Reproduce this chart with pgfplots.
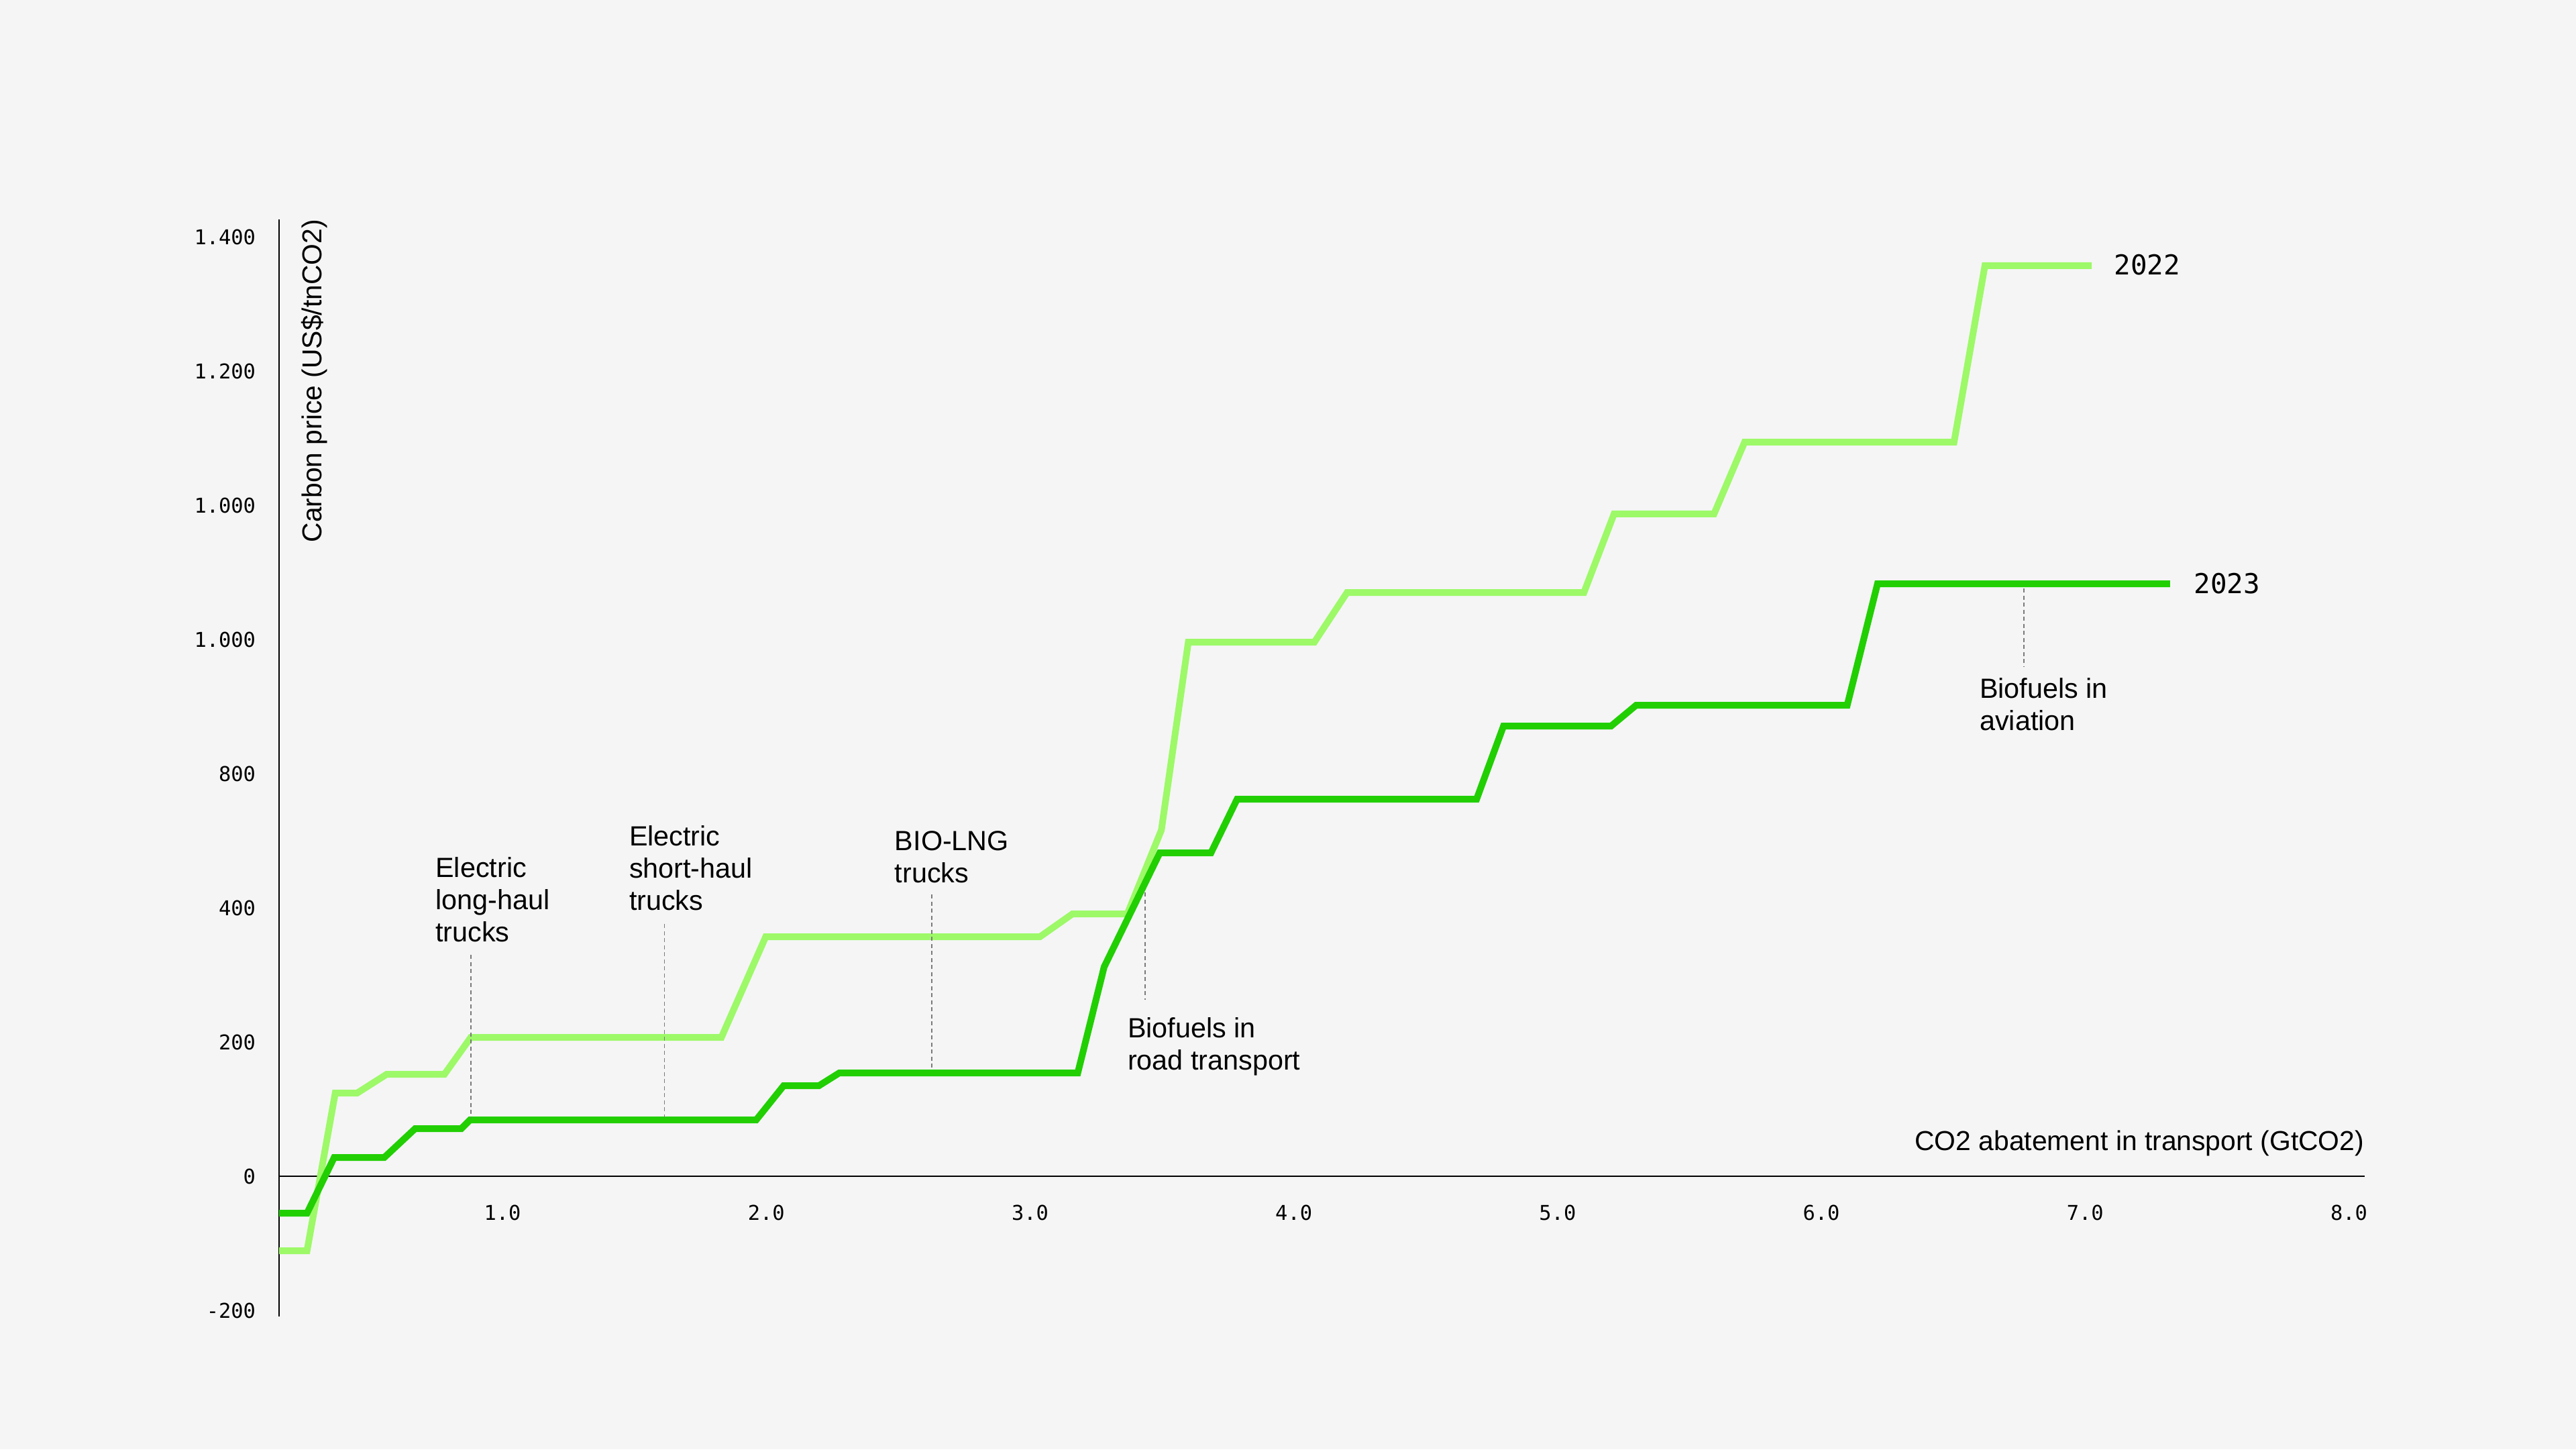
\documentclass[border=0pt]{standalone}
\usepackage{fontspec}
\setmainfont{Liberation Sans}
\newfontfamily\monofont{DejaVu Sans Mono}
\usepackage{pgfplots}
\pgfplotsset{compat=1.18}
\definecolor{bg}{HTML}{F5F5F5}
\definecolor{lightg}{HTML}{9DF968}
\definecolor{darkg}{HTML}{21CF02}
\definecolor{dashg}{HTML}{7A7A7A}
\pgfplotstableread{
x y
0.153 -111
0.259 -111
0.366 124
0.449 124
0.561 152
0.780 152
0.880 207
1.830 207
1.998 357
3.038 357
3.161 391
3.369 391
3.498 516
3.600 796
4.078 796
4.202 870
5.100 870
5.214 987
5.593 987
5.709 1094
6.503 1094
6.620 1357
7.025 1357
}\dataA
\pgfplotstableread{
x y
0.153 -55
0.259 -55
0.362 28
0.552 28
0.669 71
0.844 71
0.877 84
1.962 84
2.066 135
2.200 135
2.277 154
3.181 154
3.281 312
3.492 482
3.686 482
3.785 562
4.693 562
4.795 671
5.203 671
5.298 702
6.098 702
6.213 883
7.322 883
}\dataB
\begin{document}
\begin{tikzpicture}[x=1bp,y=1bp]
\useasboundingbox (0,0) rectangle (768,432);
\fill[bg] (0,0) rectangle (768,432);
\begin{axis}[
  at={(83.2bp,39.6bp)}, anchor=south west,
  scale only axis, width=621.8bp, height=327bp,
  xmin=0.153, xmax=8.06, ymin=-209, ymax=1426,
  axis x line=middle, axis y line=left,
  axis line style={-, black, line width=0.5bp},
  major tick length=0pt,
  xtick={1,2,3,4,5,6,7,8},
  xticklabels={1.0,2.0,3.0,4.0,5.0,6.0,7.0,8.0},
  ytick={-200,0,200,400,600,800,1000,1200,1400},
  yticklabels={-200,0,200,400,800,1.000,1.000,1.200,1.400},
  xticklabel style={font=\monofont\fontsize{6.1}{7}\selectfont, anchor=north, inner sep=0pt, yshift=-8.4bp},
  yticklabel style={font=\monofont\fontsize{6.1}{7}\selectfont, anchor=east, inner sep=0pt, xshift=-6.8bp},
  clip=false,
]
\addplot[lightg, line width=2bp, line join=miter] table[x=x,y=y] {\dataA};
\addplot[darkg, line width=2bp, line join=miter] table[x=x,y=y] {\dataB};
% annotation leader lines
\draw[dashg, line width=0.35bp, dash pattern=on 1.2bp off 0.9bp] (axis cs:0.880,330) -- (axis cs:0.880,88);
\draw[dashg, line width=0.35bp, dash pattern=on 1.2bp off 0.9bp] (axis cs:1.614,376) -- (axis cs:1.614,88);
\draw[dashg, line width=0.35bp, dash pattern=on 1.2bp off 0.9bp] (axis cs:2.628,420) -- (axis cs:2.628,158);
\draw[dashg, line width=0.35bp, dash pattern=on 1.2bp off 0.9bp] (axis cs:3.437,423) -- (axis cs:3.437,263);
\draw[dashg, line width=0.35bp, dash pattern=on 1.2bp off 0.9bp] (axis cs:6.767,876) -- (axis cs:6.767,760);
% annotations
\node[anchor=north west, inner sep=0pt, align=left, font=\fontsize{8.3}{9.6}\selectfont] at (axis cs:0.744,476) {Electric\\long-haul\\trucks};
\node[anchor=north west, inner sep=0pt, align=left, font=\fontsize{8.3}{9.6}\selectfont] at (axis cs:1.478,523) {Electric\\short-haul\\trucks};
\node[anchor=north west, inner sep=0pt, align=left, font=\fontsize{8.3}{9.6}\selectfont] at (axis cs:2.485,515) {BIO-LNG\\trucks};
\node[anchor=north west, inner sep=0pt, align=left, font=\fontsize{8.3}{9.6}\selectfont] at (axis cs:3.368,237) {Biofuels in\\road transport};
\node[anchor=north west, inner sep=0pt, align=left, font=\fontsize{8.3}{9.6}\selectfont] at (axis cs:6.598,743) {Biofuels in\\aviation};
% series labels
\node[anchor=west, inner sep=0pt, font=\monofont\fontsize{8.2}{9}\selectfont] at (axis cs:7.108,1358) {2022};
\node[anchor=west, inner sep=0pt, font=\monofont\fontsize{8.2}{9}\selectfont] at (axis cs:7.410,883) {2023};
% axis titles
\node[rotate=90, anchor=north east, inner sep=0pt, font=\fontsize{8.2}{9.8}\selectfont] at (axis cs:0.235,1427) {Carbon price (US\$/tnCO2)};
\node[anchor=base east, inner sep=0pt, font=\fontsize{8.2}{9.8}\selectfont] at (axis cs:8.06,39) {CO2 abatement in transport (GtCO2)};
\end{axis}
\end{tikzpicture}
\end{document}
